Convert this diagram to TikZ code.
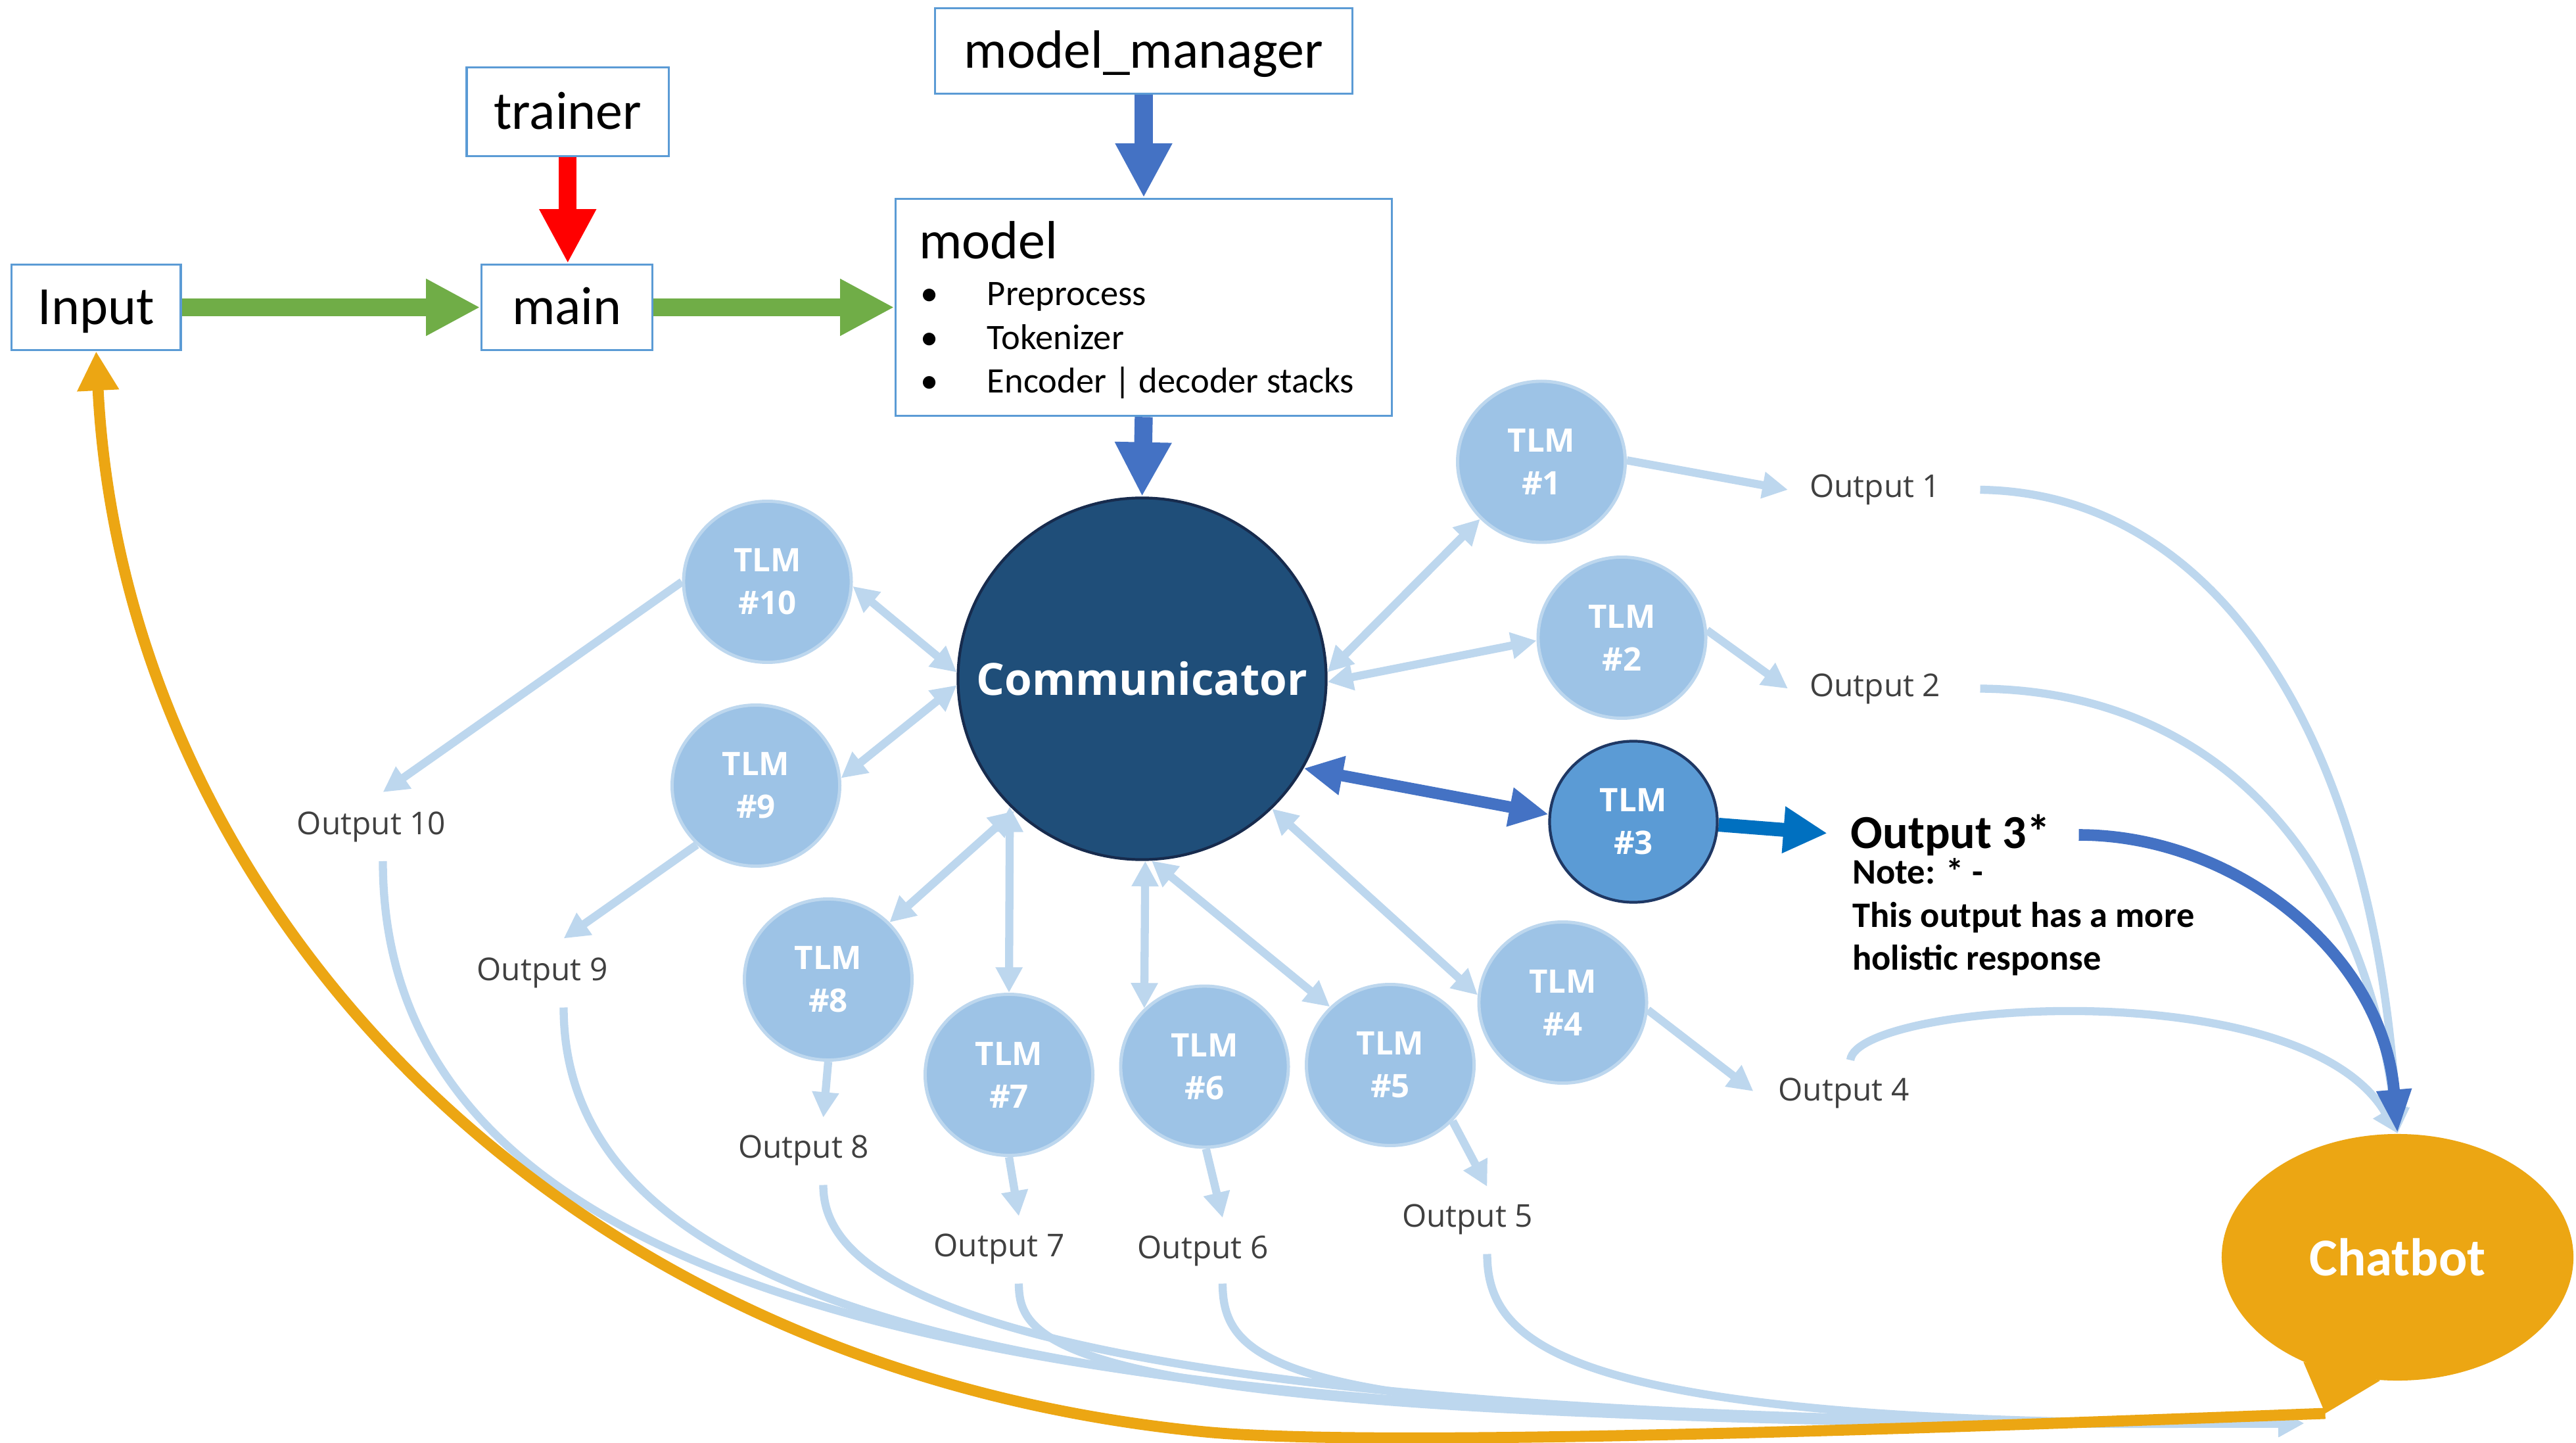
\documentclass[tikz,border=0pt]{standalone}
\usepackage{fontspec}
\setmainfont{Carlito}
\newfontfamily\osans{Open Sans}
\usetikzlibrary{shapes.geometric,arrows.meta,calc}
\definecolor{lblue}{HTML}{BDD7EE}
\definecolor{tlmfill}{HTML}{9DC3E6}
\definecolor{boxblue}{HTML}{5B9BD5}
\definecolor{commfill}{HTML}{1F4E79}
\definecolor{commdraw}{HTML}{172B4D}
\definecolor{tlmthree}{HTML}{5B9BD5}
\definecolor{tlmthreedraw}{HTML}{1F3864}
\definecolor{arrgreen}{HTML}{70AD47}
\definecolor{arrred}{HTML}{FF0000}
\definecolor{arrblue}{HTML}{4472C4}
\definecolor{arrbluetwo}{HTML}{0070C0}
\definecolor{chatorange}{HTML}{ECA613}
\definecolor{outgray}{HTML}{404040}
\pgfdeclarelayer{bg}
\pgfdeclarelayer{back}
\pgfsetlayers{bg,back,main}
\begin{document}
\begin{tikzpicture}[x=0.025cm,y=-0.025cm,
  mybox/.style={draw=boxblue, line width=1pt, fill=white, inner sep=0pt,
    text height=14.9pt, text depth=0pt, font=\fontsize{23.3pt}{28pt}\selectfont},
  tlmnode/.style={ellipse, fill=tlmfill, draw=lblue, line width=1.4pt,
    minimum width=2.55cm, minimum height=2.45cm, inner sep=0pt, text=white,
    align=center, font=\osans\bfseries\fontsize{14pt}{18.5pt}\selectfont},
  outlbl/.style={text=outgray, inner sep=0pt, font=\osans\fontsize{13.6pt}{16pt}\selectfont},
  lbline/.style={draw=lblue, line width=3.5pt},
  lbarrow/.style={lbline, -{Triangle[length=11pt,width=11pt]}},
  lbdbl/.style={lbline, {Triangle[length=11pt,width=11pt]}-{Triangle[length=11pt,width=11pt]}},
  bigarr/.style={line width=7.8pt, -{Triangle[length=23.5pt,width=23pt]}},
  listtext/.style={anchor=base west, inner sep=0pt, font=\fontsize{15.5pt}{18pt}\selectfont}
]
\useasboundingbox (0,0) rectangle (1567.6,878);
\begin{pgfonlayer}{bg}
\fill[white] (0,0) rectangle (1567.6,878);
\end{pgfonlayer}

% boxes
\node[mybox, minimum width=6.35cm, minimum height=1.3cm] (mm) at (696,31) {model\_manager};
\node[mybox, minimum width=3.075cm, minimum height=1.35cm] (trainer) at (345.5,68) {trainer};
\node[mybox, minimum width=2.575cm, minimum height=1.3cm] (inp) at (58.5,187) {Input};
\node[mybox, minimum width=2.6cm, minimum height=1.3cm] (main) at (345,187) {main};
\node[mybox, minimum width=7.55cm, minimum height=3.3cm] (mdl) at (696,187) {};
\node[anchor=base west, inner sep=0pt, font=\fontsize{23.3pt}{28pt}\selectfont] (mdltitle) at (559,157.3) {model};
\node[listtext] (li1) at (560,186) {\makebox[1.0125cm][l]{\textbullet}Preprocess};
\node[listtext] (li2) at (560,212.5) {\makebox[1.0125cm][l]{\textbullet}Tokenizer};
\node[listtext] (li3) at (560,239) {\makebox[1.0125cm][l]{\textbullet}Encoder | decoder stacks};

% communicator and TLMs
\node[ellipse, fill=commfill, draw=commdraw, line width=1.2pt, minimum width=5.6cm,
  minimum height=5.5cm, inner sep=0pt, text=white,
  font=\osans\bfseries\fontsize{19.2pt}{24pt}\selectfont] (comm) at (695,413) {\makebox[0pt][c]{Communicator}};
\node[tlmnode] (t1) at (938,281) {TLM\\\#1};
\node[tlmnode] (t2) at (987,388) {TLM\\\#2};
\node[tlmnode, fill=tlmthree, draw=tlmthreedraw, line width=1.2pt] (t3) at (994,500) {TLM\\\#3};
\node[tlmnode] (t4) at (951,610) {TLM\\\#4};
\node[tlmnode] (t5) at (846,648) {TLM\\\#5};
\node[tlmnode] (t6) at (733,649) {TLM\\\#6};
\node[tlmnode] (t7) at (614,654) {TLM\\\#7};
\node[tlmnode] (t8) at (504,596) {TLM\\\#8};
\node[tlmnode] (t9) at (460,478) {TLM\\\#9};
\node[tlmnode] (t10) at (467,354) {TLM\\\#10};

% outputs
\node[outlbl, anchor=west] (o1) at (1101,298) {Output 1};
\node[outlbl, anchor=west] (o2) at (1101,419) {Output 2};
\node[anchor=west, inner sep=0pt, font=\bfseries\fontsize{20.5pt}{24pt}\selectfont] (o3) at (1126,508) {Output 3*};
\node[anchor=west, inner sep=0pt, align=left, font=\bfseries\fontsize{15.5pt}{18.7pt}\selectfont] (note) at (1127,558) {Note: * -\\This output has a more\\holistic response};
\node[outlbl, anchor=west] (o4) at (1082,665) {Output 4};
\node[outlbl] (o5) at (893,742) {Output 5};
\node[outlbl] (o6) at (732,761) {Output 6};
\node[outlbl] (o7) at (608,760) {Output 7};
\node[outlbl] (o8) at (489,700) {Output 8};
\node[outlbl] (o9) at (330,592) {Output 9};
\node[outlbl] (o10) at (226,503) {Output 10};

% chatbot
\node[ellipse, fill=chatorange, minimum width=5.35cm, minimum height=3.75cm, inner sep=0pt,
  text=white, font=\bfseries\fontsize{23pt}{28pt}\selectfont] (cb) at (1459,765) {Chatbot};
\coordinate (tailtip) at (1415,860);
\coordinate (cbin) at (1402,866);
\fill[chatorange] (cb.228) -- (tailtip) -- (cb.262) -- cycle;

\begin{pgfonlayer}{back}
% output curves to chatbot
\draw[lbarrow] ($(o5)+(12,21)$) .. controls (905,822) and (960,868) .. (cbin);
\draw[lbarrow] ($(o6)+(12,20)$) .. controls (744,840) and (800,868) .. (cbin);
\draw[lbarrow] ($(o7)+(12,21)$) .. controls (620,822) and (650,868) .. (cbin);
\draw[lbarrow] ($(o8)+(12,21)$) .. controls (501,770) and (560,868) .. (cbin);
\draw[lbarrow] ($(o9)+(13,21)$) .. controls (343,832) and (750,870) .. (cbin);
\draw[lbarrow] ($(o10)+(7,21)$) .. controls (233,823) and (700,870) .. (cbin);
\draw[lbarrow] ($(o1.west)+(104,0)$) .. controls (1350,300) and (1445,450) .. (cb.north);
\draw[lbarrow] ($(o2.west)+(104,0)$) .. controls (1330,420) and (1435,500) .. (cb.north);
\draw[lbarrow] ($(o4.west)+(44,-20)$) .. controls (1130,610) and (1400,590) .. (cb.north);
\draw[line width=5pt, arrblue, -{Triangle[length=19pt,width=14pt]}]
  ($(o3.west)+(139,0)$) .. controls (1360,508) and (1450,580) .. (cb.north);

% orange feedback arrow
\draw[line width=4.8pt, chatorange, -{Triangle[length=17pt,width=17pt]}]
  (tailtip) .. controls (1150,870) and (831,881) .. (731,871)
  .. controls (331,831) and (75,544) .. (inp.south);

% big arrows
\draw[bigarr, arrgreen] (inp.east) -- (main.west);
\draw[bigarr, arrgreen] (main.east) -- (mdl.west);
\draw[bigarr, arrred] (trainer.south) -- (trainer.south |- main.north);
\draw[bigarr, arrblue] (mm.south) -- (mdl.north);
\draw[bigarr, arrblue] (mdl.south) -- (comm.north);

% communicator <-> TLMs
\draw[lbdbl] (comm.2) -- (t1.223);
\draw[lbdbl] (comm.-1) -- (t2.182);
\draw[line width=5pt, arrblue, {Triangle[length=17pt,width=16pt]}-{Triangle[length=17pt,width=16pt]}] (comm.-29) -- (t3.175);
\draw[lbdbl] (comm.-45) -- (t4.175);
\draw[lbdbl] (comm.-87) -- (t5.136);
\draw[lbdbl] (comm.-89) -- (t6.136);
\draw[lbdbl] (comm.-136) -- (t7.north);
\draw[lbdbl] (comm.-134) -- (t8.43);
\draw[lbdbl] (comm.182) -- (t9.5);
\draw[lbdbl] (comm.178) -- (t10.-3);

% TLMs -> outputs
\draw[lbarrow] (t1.1) -- ($(o1.west)+(-13,0)$);
\draw[lbarrow] (t2.5) -- ($(o2.west)+(-13,0)$);
\draw[line width=6pt, arrbluetwo, -{Triangle[length=19pt,width=19pt]}] (t3.-2) -- ($(o3.west)+(-14,-1)$);
\draw[lbarrow] (t4.-5) -- ($(o4.west)+(-15,-1)$);
\draw[lbarrow] (t5.-42) -- ($(o5)+(12,-20)$);
\draw[lbarrow] (t6.-89) -- ($(o6)+(12,-20)$);
\draw[lbarrow] (t7.south) -- ($(o7)+(12,-20)$);
\draw[lbarrow] (t8.south) -- ($(o8)+(12,-20)$);
\draw[lbarrow] (t9.225) -- ($(o9)+(13,-21)$);
\draw[lbarrow] (t10.180) -- ($(o10)+(7,-21)$);
\end{pgfonlayer}
\end{tikzpicture}
\end{document}
